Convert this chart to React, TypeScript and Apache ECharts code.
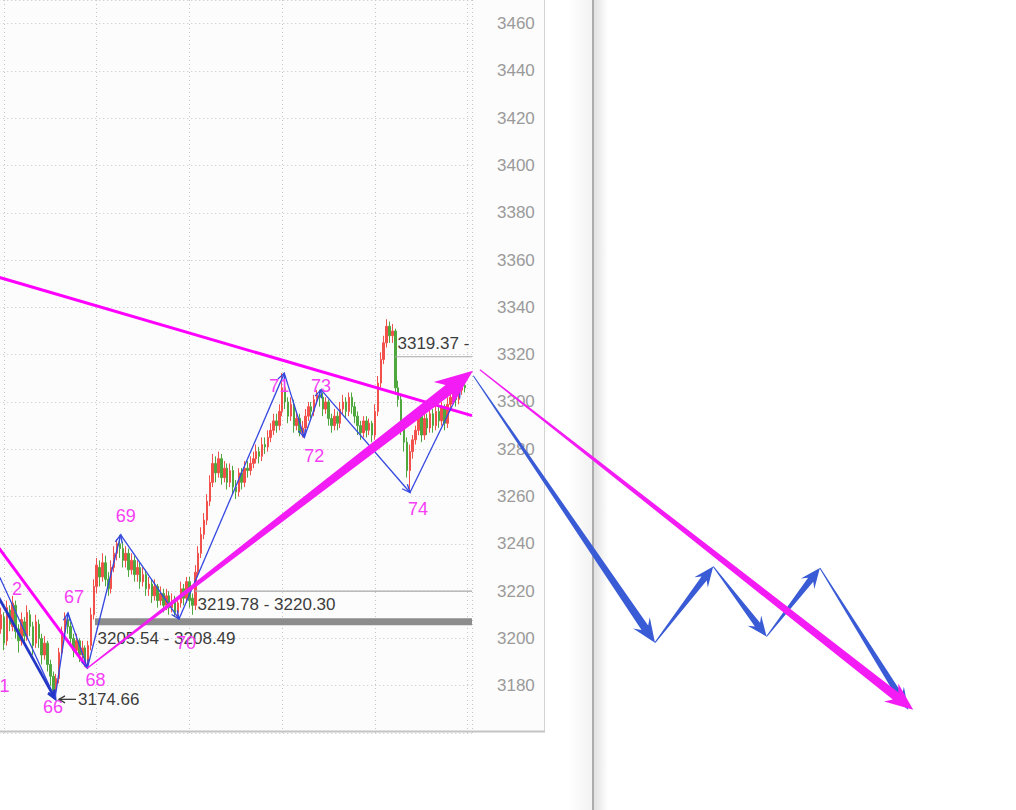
import React, { useEffect, useRef } from 'react';
import * as echarts from 'echarts';

// ---------- data ----------
const CANDLE_START = 30; // x index of first candle
// [open, close, low, high]
const candles: number[][] = [
  [3200, 3205, 3197, 3209], [3204, 3210, 3202, 3213], [3209, 3198, 3195, 3211], [3199, 3213, 3197, 3216],
  [3212, 3206, 3203, 3214], [3205, 3215, 3203, 3218], [3214, 3203, 3200, 3216], [3204, 3199, 3194, 3206],
  [3199, 3208, 3197, 3211], [3207, 3201, 3198, 3209], [3200, 3211, 3199, 3214], [3210, 3205, 3201, 3212],
  [3205, 3197, 3193, 3207], [3198, 3207, 3196, 3210], [3206, 3200, 3196, 3208], [3200, 3193, 3189, 3202],
  [3193, 3198, 3191, 3201], [3198, 3189, 3186, 3199], [3189, 3184, 3180, 3191], [3184, 3178, 3176, 3186],
  [3178, 3183, 3174.66, 3185], [3183, 3194, 3181, 3196], [3194, 3203, 3192, 3205], [3203, 3209, 3200, 3211],
  [3208, 3205, 3202, 3210.8], [3205, 3200, 3197, 3207], [3200, 3195, 3192, 3202], [3195, 3199, 3193, 3202],
  [3199, 3193, 3190, 3200], [3193, 3196, 3191, 3199], [3196, 3190, 3188, 3197], [3190, 3197, 3187.5, 3199],
  [3197, 3210, 3195, 3213], [3210, 3222, 3208, 3225], [3222, 3231, 3219, 3234], [3230, 3226, 3222, 3233],
  [3226, 3232, 3224, 3236], [3232, 3225, 3222, 3235], [3225, 3221, 3218, 3228], [3221, 3230, 3219, 3233],
  [3230, 3236, 3228, 3239], [3236, 3240, 3233, 3242], [3240, 3238, 3234, 3243.8], [3238, 3233, 3230, 3241],
  [3233, 3236, 3230, 3239], [3236, 3229, 3226, 3238], [3229, 3233, 3227, 3236], [3233, 3227, 3224, 3235],
  [3227, 3230, 3224, 3233], [3230, 3224, 3221, 3232], [3224, 3227, 3222, 3230], [3227, 3221, 3218, 3229],
  [3221, 3223, 3218, 3226], [3223, 3218, 3215, 3225], [3218, 3222, 3216, 3225], [3222, 3216, 3213, 3223],
  [3216, 3219, 3214, 3222], [3219, 3214, 3211, 3221], [3214, 3218, 3212, 3221], [3218, 3213, 3210, 3220],
  [3213, 3216, 3211, 3219], [3216, 3211, 3209, 3218], [3211, 3215, 3208.2, 3217], [3215, 3221, 3213, 3224],
  [3221, 3217, 3214, 3223], [3217, 3224, 3215, 3226], [3224, 3216, 3213, 3226], [3217, 3214, 3210, 3219],
  [3214, 3228, 3212, 3231], [3228, 3236, 3226, 3239], [3236, 3244, 3234, 3247], [3244, 3250, 3242, 3253],
  [3250, 3258, 3248, 3261], [3258, 3266, 3256, 3269], [3266, 3274, 3264, 3278], [3274, 3270, 3266, 3277],
  [3270, 3276, 3268, 3279], [3276, 3268, 3265, 3278], [3268, 3272, 3266, 3275], [3272, 3266, 3263, 3274],
  [3266, 3271, 3264, 3274], [3271, 3264, 3261, 3273], [3264, 3262, 3259, 3267], [3262, 3270, 3260, 3272],
  [3270, 3266, 3263, 3272], [3266, 3272, 3264, 3275], [3272, 3271, 3268, 3275], [3271, 3274, 3269, 3277],
  [3274, 3276, 3272, 3279], [3276, 3279, 3274, 3282], [3279, 3277, 3274, 3281], [3277, 3282, 3275, 3285],
  [3282, 3281, 3278, 3285], [3281, 3285, 3279, 3288], [3285, 3288, 3283, 3291], [3288, 3292, 3286, 3295],
  [3292, 3290, 3287, 3295], [3290, 3296, 3288, 3299], [3296, 3306, 3294, 3312.2], [3306, 3300, 3297, 3309],
  [3300, 3294, 3291, 3302], [3294, 3299, 3292, 3302], [3299, 3290, 3287, 3301], [3290, 3293, 3288, 3296],
  [3293, 3287, 3285.5, 3295], [3287, 3289, 3285, 3292], [3289, 3294, 3287, 3297], [3294, 3298, 3292, 3300],
  [3298, 3296, 3293, 3300], [3296, 3301, 3294, 3303], [3301, 3303, 3299, 3305], [3303, 3302, 3298, 3305.2],
  [3302, 3297, 3294, 3304], [3297, 3300, 3295, 3302], [3300, 3293, 3290, 3301], [3293, 3290, 3287, 3295],
  [3290, 3294, 3288, 3297], [3294, 3291, 3288, 3296], [3291, 3297, 3289, 3300], [3297, 3300, 3295, 3303],
  [3300, 3296, 3293, 3302], [3296, 3302, 3294, 3304], [3302, 3298, 3295, 3304], [3298, 3294, 3291, 3300],
  [3294, 3290, 3286, 3296], [3290, 3287, 3284, 3292], [3287, 3292, 3285, 3294], [3292, 3288, 3285, 3294],
  [3288, 3291, 3286, 3293], [3291, 3286, 3283, 3292], [3286, 3296, 3284, 3299], [3296, 3308, 3294, 3311],
  [3308, 3318, 3306, 3321], [3318, 3325, 3316, 3328], [3325, 3332, 3323, 3335], [3332, 3328, 3325, 3334],
  [3328, 3330, 3325, 3333], [3330, 3306, 3303, 3331], [3306, 3301, 3298, 3309], [3301, 3290, 3286, 3303],
  [3290, 3283, 3279, 3292], [3283, 3271, 3268, 3285], [3271, 3279, 3261.7, 3282], [3279, 3284, 3276, 3286],
  [3284, 3288, 3282, 3290], [3288, 3294, 3286, 3297], [3294, 3286, 3283, 3296], [3286, 3293, 3284, 3296],
  [3293, 3289, 3286, 3295], [3289, 3295, 3287, 3298], [3295, 3290, 3287, 3297], [3290, 3296, 3288, 3299],
  [3296, 3292, 3289, 3298], [3292, 3298, 3290, 3300], [3298, 3291, 3288, 3299], [3291, 3299, 3289, 3302],
  [3299, 3302, 3297, 3304], [3302, 3304, 3300, 3306], [3304, 3301, 3298, 3306], [3301, 3305, 3299, 3307],
  [3305, 3307, 3303, 3309], [3307, 3306, 3304, 3308],
];

// wave pivots
const waveX = [49.6, 54.08, 60.8, 72.27, 92.38, 128.71, 135.61, 141.37, 172.08, 189.33];
const waveY = [3174.66, 3210.8, 3187.5, 3243.8, 3208.2, 3312.2, 3285.0, 3305.2, 3261.7, 3305.2];
const waveNames = ['66', '67', '68', '69', '70', '71', '72', '73', '74'];
// lines coming into pivot 66 from off-chart
const leadX = [30, 30];
const leadY = [3227.3, 3217.7];
// partially visible labels at left edge
const edgeLabelX = [32.2, 36.49];
const edgeLabelY = [3180.0, 3221.0];
const edgeLabelText = ['1', '2'];

// magenta trend lines [x1, y1, x2, y2]
const trendX1 = [30, 30];
const trendY1 = [3352.8, 3238.6];
const trendX2 = [193.47, 60.8];
const trendY2 = [3294.2, 3187.5];

// magenta arrows
const magArrowX1 = [60.8, 196.2];
const magArrowY1 = [3187.5, 3313.6];
const magArrowX2 = [193.8, 345.7];
const magArrowY2 = [3313.2, 3169.8];

// blue projection path
const projX = [193.92, 256.6, 276.7, 295.1, 313.5, 344.0];
const projY = [3311.1, 3198.2, 3230.4, 3200.8, 3229.8, 3169.8];

// price zones
const bandStartX = [63.4, 97.9, 166.9];
const bandLow = [3205.54, 3219.78, 3319.37];
const bandHigh = [3208.49, 3220.3, 3319.37];
const bandText = ['3205.54 - 3208.49', '3219.78 - 3220.30', '3319.37 -'];

// low callout
const calloutX = [49.6];
const calloutY = [3174.66];
const calloutText = ['3174.66'];

// ---------- styles ----------
const X_MAX = 193.47;
const FONT = 'Liberation Sans, Arial, sans-serif';
const MAGENTA = '#f41cf4';
const TREND_MAGENTA = '#ff00ff';
const BLUE = '#3a5bd6';
const WAVE_BLUE = '#3447e0';
const LABEL_MAGENTA = '#f63ef6';
const waveLabelOffsets = [[-2, 9], [6, -16], [8, 12], [5, -19], [7, 24], [-5, 13], [10, 19], [0, -4], [8, 16]];
const blueArrowStyles = [
  { w0: 1, w1: 8, headLen: 24, headW: 20, notch: 0.25 },
  { w0: 1, w1: 6.5, headLen: 20, headW: 17, notch: 0.25 },
  { w0: 1, w1: 6.5, headLen: 20, headW: 17, notch: 0.25 },
  { w0: 1, w1: 6.5, headLen: 20, headW: 17, notch: 0.25 },
  { w0: 1, w1: 6.5, headLen: 22, headW: 17, notch: 0.25 },
];
const magArrowStyles = [
  { w0: 1.5, w1: 11, headLen: 38, headW: 30, notch: 0.2 },
  { w0: 1.2, w1: 9, headLen: 28, headW: 23, notch: 0.2 },
];
const bandColors = ['#8c8c8c', '#a8a8a8', '#a8a8a8'];
const bandTextAbove = [false, false, true];

function taperedArrow(p0: number[], p1: number[], s: any) {
  const dx = p1[0] - p0[0];
  const dy = p1[1] - p0[1];
  const len = Math.hypot(dx, dy) || 1;
  const ux = dx / len, uy = dy / len;
  const nx = -uy, ny = ux;
  const bx = p1[0] - ux * s.headLen * (1 - s.notch);
  const by = p1[1] - uy * s.headLen * (1 - s.notch);
  const wx = p1[0] - ux * s.headLen;
  const wy = p1[1] - uy * s.headLen;
  return [
    [p0[0] + nx * s.w0 / 2, p0[1] + ny * s.w0 / 2],
    [bx + nx * s.w1 / 2, by + ny * s.w1 / 2],
    [wx + nx * s.headW / 2, wy + ny * s.headW / 2],
    [p1[0], p1[1]],
    [wx - nx * s.headW / 2, wy - ny * s.headW / 2],
    [bx - nx * s.w1 / 2, by - ny * s.w1 / 2],
    [p0[0] - nx * s.w0 / 2, p0[1] - ny * s.w0 / 2],
  ];
}

function textStyle(text: string, x: number, y: number, fill: string, size: number, align: string) {
  return {
    text, x, y, fill, fontSize: size, fontFamily: FONT,
    align, textAlign: align, verticalAlign: 'middle', textVerticalAlign: 'middle',
  };
}

function buildOption() {
  const candleData = candles.map((r, k) => [CANDLE_START + k, r[0], r[1], r[2], r[3]]);

  const segData: number[][] = [];
  const segWidth: number[] = [];
  const segColor: string[] = [];
  leadX.forEach((x, k) => {
    segData.push([x, leadY[k], waveX[0], waveY[0]]);
    segWidth.push(k === 1 ? 2.8 : 1.3);
    segColor.push(k === 1 ? '#2436c6' : WAVE_BLUE);
  });
  for (let k = 1; k < waveX.length; k++) {
    segData.push([waveX[k - 1], waveY[k - 1], waveX[k], waveY[k]]);
    segWidth.push(1.3);
    segColor.push(WAVE_BLUE);
  }

  const trendData = trendX1.map((x, k) => [x, trendY1[k], trendX2[k], trendY2[k]]);
  const magData = magArrowX1.map((x, k) => [x, magArrowY1[k], magArrowX2[k], magArrowY2[k]]);
  const projData: number[][] = [];
  for (let k = 1; k < projX.length; k++) projData.push([projX[k - 1], projY[k - 1], projX[k], projY[k]]);
  const labelData = waveNames.map((_, k) => [waveX[k], waveY[k]]);
  const edgeData = edgeLabelX.map((x, k) => [x, edgeLabelY[k]]);
  const bandData = bandStartX.map((x, k) => [x, bandLow[k], bandHigh[k]]);
  const calloutData = calloutX.map((x, k) => [x, calloutY[k]]);

  const segEncode = { x: [0, 2], y: [1, 3] };

  return {
    animation: false,
    backgroundColor: '#ffffff',
    graphic: {
      elements: [
        { type: 'rect', z: -10, silent: true, shape: { x: 0, y: 0, width: 544, height: 732 }, style: { fill: '#fcfcfc' } },
        { type: 'line', z: -9, silent: true, shape: { x1: 544.5, y1: 0, x2: 544.5, y2: 732 }, style: { stroke: '#d4d4d4', lineWidth: 1 } },
        { type: 'line', z: -9, silent: true, shape: { x1: 0, y1: 731.5, x2: 545, y2: 731.5 }, style: { stroke: '#c4c4c4', lineWidth: 2 } },
        {
          type: 'rect', z: -9, silent: true, shape: { x: 568, y: 0, width: 24, height: 810 },
          style: { fill: new echarts.graphic.LinearGradient(0, 0, 1, 0, [{ offset: 0, color: 'rgba(0,0,0,0)' }, { offset: 1, color: 'rgba(0,0,0,0.05)' }]) },
        },
        { type: 'rect', z: -8, silent: true, shape: { x: 592, y: 0, width: 2, height: 810 }, style: { fill: '#acacac' } },
        {
          type: 'rect', z: -8, silent: true, shape: { x: 594, y: 0, width: 14, height: 810 },
          style: { fill: new echarts.graphic.LinearGradient(0, 0, 1, 0, [{ offset: 0, color: 'rgba(0,0,0,0.12)' }, { offset: 1, color: 'rgba(0,0,0,0)' }]) },
        },
      ],
    },
    grid: { left: -88.75, right: 544, top: 0, bottom: 77, containLabel: false, outerBoundsMode: 'none', show: false },
    xAxis: {
      type: 'value', min: 0, max: X_MAX, interval: 32,
      axisLine: { show: false }, axisTick: { show: false }, axisLabel: { show: false },
      splitLine: { show: true, lineStyle: { color: '#c6c6c6', type: [1, 3], width: 1 } },
    },
    yAxis: {
      type: 'value', position: 'right', min: 3160, max: 3470, interval: 20, scale: true,
      axisLine: { show: true, lineStyle: { color: '#c2c2c2', width: 1.3 } },
      axisTick: { show: true, inside: false, length: 8, lineStyle: { color: '#c2c2c2' } },
      minorTick: { show: true, splitNumber: 2, length: 3.5, lineStyle: { color: '#c2c2c2' } },
      axisLabel: {
        color: '#9a9a9a', fontSize: 17, fontFamily: FONT, margin: 25,
        formatter: (v: number) => (v >= 3180 && v <= 3460 && v % 20 === 0 ? String(v) : ''),
      },
      splitLine: { show: true, lineStyle: { color: '#c6c6c6', type: [1, 3], width: 1 } },
    },
    series: [
      {
        type: 'candlestick', name: 'price', data: candleData, barWidth: 2,
        encode: { x: 0, y: [1, 2, 3, 4] },
        itemStyle: { color: '#f2504b', color0: '#4fa83e', borderColor: '#f2504b', borderColor0: '#4fa83e', borderWidth: 1 },
        z: 2,
      },
      {
        type: 'custom', name: 'zones', data: bandData, encode: { x: 0, y: [1, 2] }, z: 3,
        renderItem: (params: any, api: any) => {
          const i = params.dataIndex;
          const a = api.coord([api.value(0), api.value(2)]);
          const b = api.coord([X_MAX, api.value(1)]);
          const h = Math.max(b[1] - a[1], 1);
          const ty = bandTextAbove[i] ? a[1] - 13 : a[1] + h + 13;
          return {
            type: 'group',
            children: [
              { type: 'rect', shape: { x: a[0], y: a[1], width: b[0] - a[0], height: h }, style: { fill: bandColors[i] } },
              { type: 'text', style: textStyle(bandText[i], a[0] + 2.5, ty, '#3c3c3c', 17, 'left') },
            ],
          };
        },
      },
      {
        type: 'custom', name: 'trend', data: trendData, encode: segEncode, z: 4,
        renderItem: (params: any, api: any) => {
          const p0 = api.coord([api.value(0), api.value(1)]);
          const p1 = api.coord([api.value(2), api.value(3)]);
          return { type: 'line', shape: { x1: p0[0], y1: p0[1], x2: p1[0], y2: p1[1] }, style: { stroke: TREND_MAGENTA, lineWidth: 3 } };
        },
      },
      {
        type: 'custom', name: 'wave', data: segData, encode: segEncode, z: 5,
        renderItem: (params: any, api: any) => {
          const i = params.dataIndex;
          const p0 = api.coord([api.value(0), api.value(1)]);
          const p1 = api.coord([api.value(2), api.value(3)]);
          const dx = p1[0] - p0[0], dy = p1[1] - p0[1];
          const len = Math.hypot(dx, dy) || 1;
          const ux = dx / len, uy = dy / len;
          const hl = 8, hw = 3.5;
          return {
            type: 'group',
            children: [
              { type: 'line', shape: { x1: p0[0], y1: p0[1], x2: p1[0], y2: p1[1] }, style: { stroke: segColor[i], lineWidth: segWidth[i] } },
              {
                type: 'polyline',
                shape: { points: [[p1[0] - ux * hl - uy * hw, p1[1] - uy * hl + ux * hw], [p1[0], p1[1]], [p1[0] - ux * hl + uy * hw, p1[1] - uy * hl - ux * hw]] },
                style: { stroke: segColor[i], lineWidth: segWidth[i], fill: 'none' },
              },
            ],
          };
        },
      },
      {
        type: 'custom', name: 'projection', data: projData, encode: segEncode, z: 6,
        renderItem: (params: any, api: any) => {
          const p0 = api.coord([api.value(0), api.value(1)]);
          const p1 = api.coord([api.value(2), api.value(3)]);
          return { type: 'polygon', shape: { points: taperedArrow(p0, p1, blueArrowStyles[params.dataIndex]) }, style: { fill: BLUE } };
        },
      },
      {
        type: 'custom', name: 'magentaArrows', data: magData, encode: segEncode, z: 7,
        renderItem: (params: any, api: any) => {
          const p0 = api.coord([api.value(0), api.value(1)]);
          const p1 = api.coord([api.value(2), api.value(3)]);
          return { type: 'polygon', shape: { points: taperedArrow(p0, p1, magArrowStyles[params.dataIndex]) }, style: { fill: MAGENTA } };
        },
      },
      {
        type: 'custom', name: 'waveLabels', data: labelData, encode: { x: 0, y: 1 }, z: 8,
        renderItem: (params: any, api: any) => {
          const i = params.dataIndex;
          const p = api.coord([api.value(0), api.value(1)]);
          const o = waveLabelOffsets[i];
          return { type: 'text', style: textStyle(waveNames[i], p[0] + o[0], p[1] + o[1], LABEL_MAGENTA, 18, 'center') };
        },
      },
      {
        type: 'custom', name: 'edgeLabels', data: edgeData, encode: { x: 0, y: 1 }, z: 8,
        renderItem: (params: any, api: any) => {
          const i = params.dataIndex;
          const p = api.coord([api.value(0), api.value(1)]);
          return { type: 'text', style: textStyle(edgeLabelText[i], p[0], p[1], LABEL_MAGENTA, 18, 'center') };
        },
      },
      {
        type: 'custom', name: 'callout', data: calloutData, encode: { x: 0, y: 1 }, z: 8,
        renderItem: (params: any, api: any) => {
          const i = params.dataIndex;
          const p = api.coord([api.value(0), api.value(1)]);
          const y = p[1] + 1;
          return {
            type: 'group',
            children: [
              { type: 'line', shape: { x1: p[0] + 4, y1: y, x2: p[0] + 21, y2: y }, style: { stroke: '#3c3c3c', lineWidth: 1.3 } },
              { type: 'polyline', shape: { points: [[p[0] + 10, y - 3.5], [p[0] + 4, y], [p[0] + 10, y + 3.5]] }, style: { stroke: '#3c3c3c', lineWidth: 1.3, fill: 'none' } },
              { type: 'text', style: textStyle(calloutText[i], p[0] + 23, y, '#3c3c3c', 17, 'left') },
            ],
          };
        },
      },
    ],
  };
}

export default function App() {
  const ref = useRef<HTMLDivElement>(null);
  useEffect(() => {
    if (!ref.current) return;
    const chart = echarts.init(ref.current, undefined, { renderer: 'svg' });
    chart.setOption(buildOption() as any);
    return () => chart.dispose();
  }, []);
  return (
    <div
      ref={ref}
      style={{ position: 'fixed', left: 0, top: 0, width: 1016, height: 810, background: '#ffffff' }}
    />
  );
}
